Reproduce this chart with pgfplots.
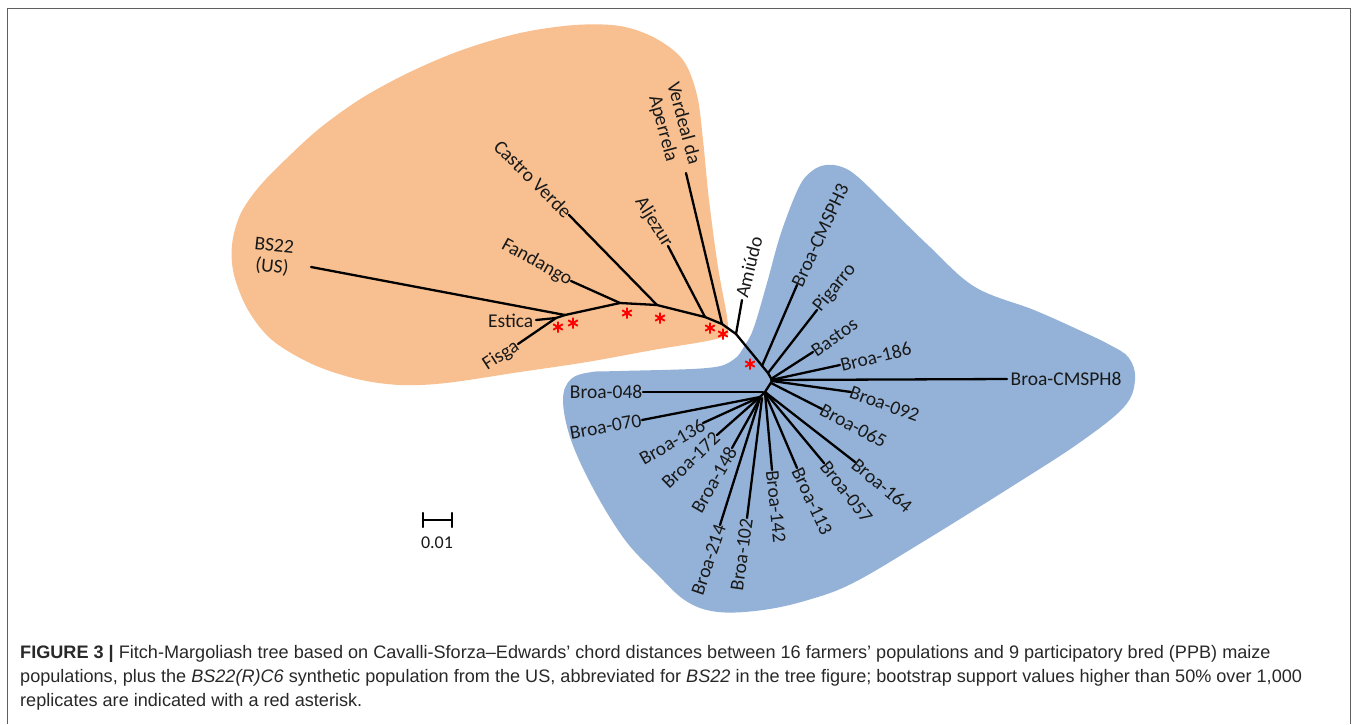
\documentclass[border=0pt]{standalone}
\usepackage{fontspec}
\setmainfont{Carlito}
\newfontfamily\capfont{Liberation Sans}
\usepackage{pgfplots}
\pgfplotsset{compat=1.18}
\definecolor{orangeblob}{RGB}{248,192,144}
\definecolor{blueblob}{RGB}{148,178,216}
\definecolor{framegray}{RGB}{95,95,95}
\definecolor{labeltext}{RGB}{25,25,25}
\definecolor{captext}{RGB}{40,40,40}
\tikzset{branch/.style={black, line width=2.3pt, line cap=round, mark=none},
  lab/.style={font=\fontsize{19.5}{21}\selectfont, text=labeltext, inner sep=1.5pt},
  captionline/.style={anchor=base west, inner sep=0, text=captext, font=\capfont\fontsize{18.1}{22}\selectfont}}
\newcommand{\br}[2]{\addplot[branch] coordinates {#1 #2};}
\begin{document}
\begin{tikzpicture}
\begin{axis}[at={(0,0)}, anchor=south west, scale only axis,
  width=1358pt, height=724pt, xmin=0, xmax=1358, ymin=0, ymax=724,
  y dir=reverse, hide axis, clip=false]
% frame
\draw[framegray, line width=1.4pt] (axis cs:7.5,724) -- (axis cs:7.5,8.5) -- (axis cs:1350.5,8.5) -- (axis cs:1350.5,724);
% blobs
\addplot[fill=orangeblob, draw=none, smooth cycle, tension=0.55] coordinates {
(272,340) (248,310) (234,275) (232,245) (240,215) (258,188) (285,160) (320,128) (362,98) (410,72) (462,50) (520,33) (575,25) (620,26) (655,38) (683,60) (697,95) (703,140) (709,200) (718,267) (728,326) (720,338) (653,350) (587,362) (520,372) (446,383) (400,385) (357,379) (312,364)};
\addplot[fill=blueblob, draw=none, smooth cycle, tension=0.6] coordinates {
(826,165) (842,167) (858,177) (889,207) (930,247) (975,287) (1034,310) (1079,330) (1110,345) (1129,358) (1135,380) (1124,407) (1079,443) (1011,487) (921,543) (853,583) (808,600) (763,610) (718,612) (686,601) (656,573) (625,540) (594,490) (571,440) (563,400) (571,379) (592,372) (620,371) (707,368) (733,360) (745,345) (754,327) (767,283) (781,233) (799,187) (812,171)};
% orange clade
\br{(311,267)}{(565,315)}
\br{(536,320)}{(556,318)}
\br{(518,344)}{(556,318)}
\br{(556,318)}{(565,315)}
\br{(565,315)}{(620,303)}
\br{(571,281)}{(620,303)}
\br{(620,303)}{(657,305)}
\br{(569,215)}{(657,305)}
\br{(657,305)}{(705,317)}
\br{(668,246)}{(705,317)}
\br{(705,317)}{(722,324)}
\br{(686,173)}{(722,324)}
\br{(722,324)}{(736,334)}
\br{(742,300)}{(736,334)}
\br{(736,334)}{(768,373)}
% blue clade
\br{(762,366)}{(797,285)}
\br{(768,373)}{(817,310)}
\br{(768,373)}{(772,380)}
\br{(771,379)}{(813,352)}
\br{(771,380)}{(840,365)}
\br{(772,380)}{(1007,379)}
\br{(772,381)}{(851,392)}
\br{(771,383)}{(822,409)}
\br{(772,381)}{(765,392)}
\br{(765,392)}{(855,462)}
\br{(765,392)}{(824,463)}
\br{(765,393)}{(797,468)}
\br{(765,393)}{(772,470)}
\br{(765,392)}{(760,397)}
\br{(763,392)}{(643,392)}
\br{(760,397)}{(642,420)}
\br{(760,397)}{(703,423)}
\br{(760,397)}{(717,435)}
\br{(760,398)}{(732,448)}
\br{(760,398)}{(720,525)}
\br{(762,398)}{(747,518)}
% scale bar
\br{(423,520)}{(452,520)}
\br{(423,513)}{(423,527)}
\br{(452,513)}{(452,527)}
% bootstrap asterisks
\addplot[only marks, mark=asterisk, mark size=5.5pt, red, line width=1.9pt] coordinates {
(558,327) (573,323) (627,313) (660,318) (710,328) (723,334) (750,364)};
% labels right side
\node[lab, anchor=west] at (axis cs:1009,379) {Broa-CMSPH8};
\node[lab, anchor=west, rotate=14] at (axis cs:839,366) {Broa-186};
\node[lab, anchor=west, rotate=35] at (axis cs:812,353) {Bastos};
\node[lab, anchor=west, rotate=51] at (axis cs:816,311) {Pigarro};
\node[lab, anchor=west, rotate=65] at (axis cs:796,287) {Broa-CMSPH3};
\node[lab, anchor=west, rotate=76] at (axis cs:741,299) {Amiúdo};
\node[lab, anchor=west, rotate=-20] at (axis cs:849,391) {Broa-092};
\node[lab, anchor=west, rotate=-28] at (axis cs:820,408) {Broa-065};
\node[lab, anchor=west, rotate=-40] at (axis cs:853,461) {Broa-164};
\node[lab, anchor=west, rotate=-52] at (axis cs:823,462) {Broa-057};
\node[lab, anchor=west, rotate=-65] at (axis cs:796,467) {Broa-113};
\node[lab, anchor=west, rotate=-84] at (axis cs:772,469) {Broa-142};
% labels left side
\node[lab, anchor=east] at (axis cs:644,392) {Broa-048};
\node[lab, anchor=east, rotate=10] at (axis cs:643,420) {Broa-070};
\node[lab, anchor=east, rotate=30] at (axis cs:705,423) {Broa-136};
\node[lab, anchor=east, rotate=44] at (axis cs:718,434) {Broa-172};
\node[lab, anchor=east, rotate=60] at (axis cs:733,447) {Broa-148};
\node[lab, anchor=east, rotate=71] at (axis cs:721,524) {Broa-214};
\node[lab, anchor=east, rotate=82] at (axis cs:747,517) {Broa-102};
\node[lab, anchor=east, rotate=33] at (axis cs:519,344) {Fisga};
\node[lab, anchor=east] at (axis cs:535,321) {Estica};
\node[lab, anchor=east, rotate=-29] at (axis cs:572,282) {Fandango};
\node[lab, anchor=east, rotate=-45] at (axis cs:570,216) {Castro Verde};
\node[lab, anchor=east, rotate=-58] at (axis cs:669,247) {Aljezur};
\node[lab, align=center, rotate=-75] at (axis cs:673,126) {Verdeal da\\Aperrela};
\node[lab, align=center, rotate=-6] at (axis cs:273,257) {BS22\\(US)};
\node[lab, font=\fontsize{18}{20}\selectfont] at (axis cs:437,543) {0.01};
% caption
\node[captionline] at (axis cs:20,658) {\textbf{FIGURE 3 |} Fitch-Margoliash tree based on Cavalli-Sforza–Edwards’ chord distances between 16 farmers’ populations and 9 participatory bred (PPB) maize};
\node[captionline] at (axis cs:20,682) {populations, plus the \textit{BS22(R)C6} synthetic population from the US, abbreviated for \textit{BS22} in the tree figure; bootstrap support values higher than 50\% over 1,000};
\node[captionline] at (axis cs:20,706) {replicates are indicated with a red asterisk.};
\end{axis}
\pgfresetboundingbox
\useasboundingbox (0,0) rectangle (1358pt,724pt);
\end{tikzpicture}
\end{document}
